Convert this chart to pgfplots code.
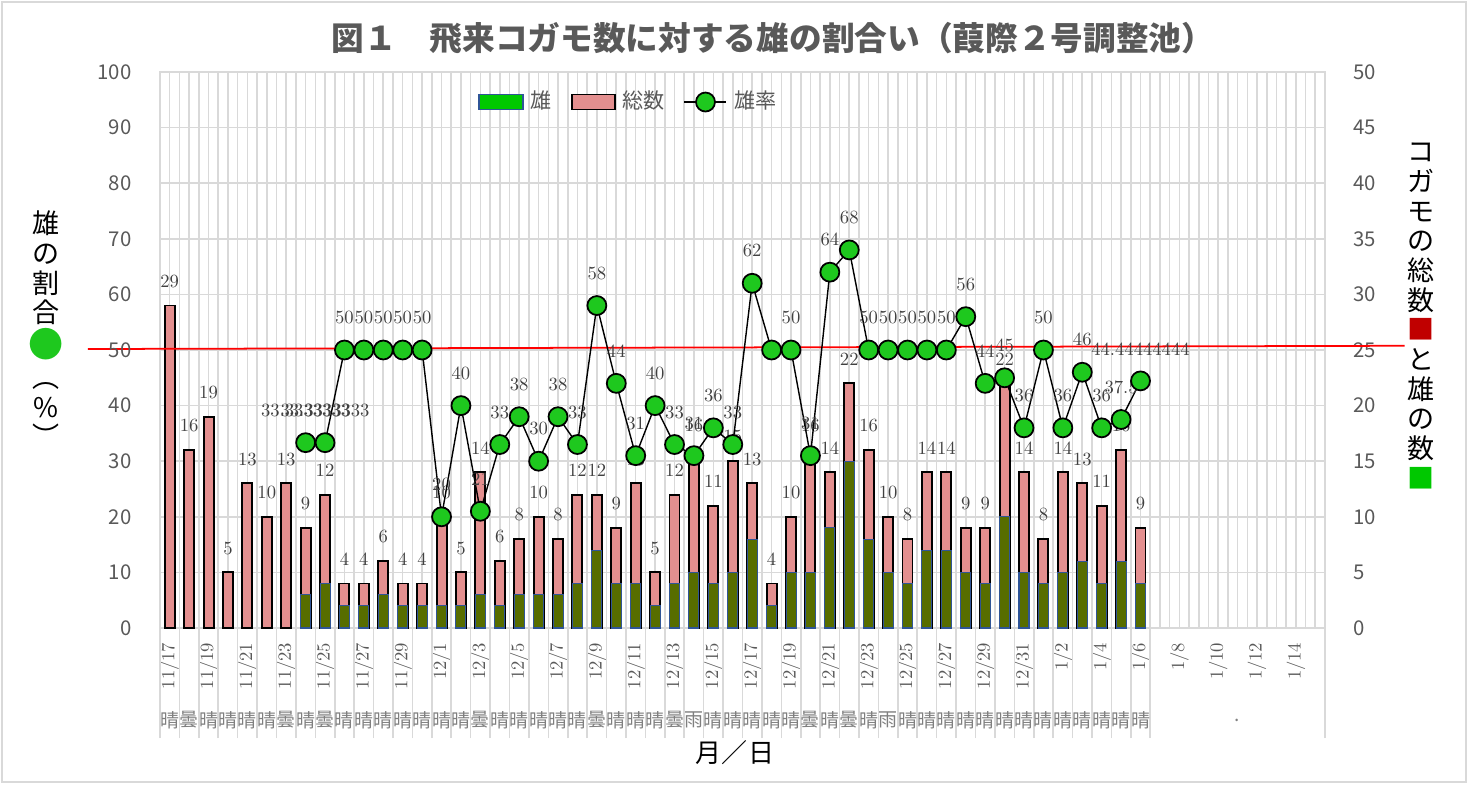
\documentclass[border=0pt]{standalone}
\usepackage{pgfplots}
\pgfplotsset{compat=1.18}
\usepackage{pgfplotstable}
\usepackage{fontspec}
\newfontfamily\jp{Noto Sans CJK JP}
\newfontfamily\lmr{lmroman10-regular}[Extension=.otf]
\definecolor{pinkbar}{HTML}{E38F8F}
\definecolor{malebar}{HTML}{576D00}
\definecolor{markc}{HTML}{1EC81E}
\definecolor{legg}{HTML}{00C800}
\definecolor{edgeb}{HTML}{2F5597}
\definecolor{txt}{HTML}{595959}
\definecolor{labc}{HTML}{404040}
\definecolor{wthr}{HTML}{7F7F7F}
\definecolor{gridc}{HTML}{D9D9D9}
\definecolor{redsq}{HTML}{C00000}
\pgfplotsset{
  ratelegend/.style={legend image code/.code={\draw[mark repeat=2,mark phase=2,#1] plot coordinates {(0cm,0cm) (0.21cm,0cm) (0.42cm,0cm)};}},
  greenlegend/.style={legend image code/.code={\draw[fill=legg, draw=edgeb, line width=0.5pt] (0cm,-0.075cm) rectangle (0.44cm,0.075cm);}},
  pinklegend/.style={legend image code/.code={\draw[fill=pinkbar, draw=black, line width=0.5pt] (0cm,-0.075cm) rectangle (0.43cm,0.075cm);}},
}

\pgfplotstableread{
x total
0 29
1 16
2 19
3 5
4 13
5 10
6 13
7 9
8 12
9 4
10 4
11 6
12 4
13 4
14 10
15 5
16 14
17 6
18 8
19 10
20 8
21 12
22 12
23 9
24 13
25 5
26 12
27 16
28 11
29 15
30 13
31 4
32 10
33 16
34 14
35 22
36 16
37 10
38 8
39 14
40 14
41 9
42 9
43 22
44 14
45 8
46 14
47 13
48 11
49 16
50 9
}\totals

\pgfplotstableread{
x male
7 3
8 4
9 2
10 2
11 3
12 2
13 2
14 2
15 2
16 3
17 2
18 3
19 3
20 3
21 4
22 7
23 4
24 4
25 2
26 4
27 5
28 4
29 5
30 8
31 2
32 5
33 5
34 9
35 15
36 8
37 5
38 4
39 7
40 7
41 5
42 4
43 10
44 5
45 4
46 5
47 6
48 4
49 6
50 4
}\males

\begin{document}
\begin{tikzpicture}
\path[use as bounding box] (0,0) rectangle (14.68,7.84);
\draw[gridc, line width=0.4pt] (0.02,0.02) rectangle (14.66,7.82);

% ---------- bars (right axis) ----------
\begin{axis}[
  at={(1.6cm,1.56cm)}, anchor=south west,
  scale only axis, width=11.65cm, height=5.56cm,
  xmin=-0.5, xmax=59.5, ymin=0, ymax=50,
  clip=false,
  ytick={0,5,...,50}, ytick pos=right, yticklabel pos=right,
  /pgf/number format/assume math mode=true,
  yticklabel style={font=\jp\fontsize{5.8}{7}\selectfont, text=txt, xshift=0.16cm},
  ymajorgrids, grid style={gridc, line width=0.45pt},
  xtick={0,2,...,58},
  xticklabels={11/17,11/19,11/21,11/23,11/25,11/27,11/29,12/1,12/3,12/5,12/7,12/9,12/11,12/13,12/15,12/17,12/19,12/21,12/23,12/25,12/27,12/29,12/31,1/2,1/4,1/6,1/8,1/10,1/12,1/14},
  xtick pos=bottom,
  xticklabel style={yshift=-0.14cm, rotate=90, anchor=east, inner sep=0pt, font=\lmr\fontsize{5.3}{6}\selectfont, text=txt},
  major tick length=0pt, minor tick length=0pt,
  minor xtick={-0.5,0,...,59.5}, xminorgrids, minor grid style={gridc, line width=0.45pt},
  extra x ticks={-0.5,0.5,1.5,2.5,3.5,4.5,5.5,6.5,7.5,8.5,9.5,10.5,11.5,12.5,13.5,14.5,15.5,16.5,17.5,18.5,19.5,20.5,21.5,22.5,23.5,24.5,25.5,26.5,27.5,28.5,29.5,30.5,31.5,32.5,33.5,34.5,35.5,36.5,37.5,38.5,39.5,40.5,41.5,42.5,43.5,44.5,45.5,46.5,47.5,48.5,49.5,50.5,59.5},
  extra x tick labels={},
  extra x tick style={major tick length=1.1cm, tick align=outside, tick style={draw=gridc, line width=0.45pt}},
  tick style={draw=gridc, line width=0.45pt},
  axis line style={draw=gridc, line width=0.45pt},
  ybar, bar width=0.1cm, bar shift=0pt,
]
\addplot[fill=pinkbar, draw=black, line width=0.55pt,
  nodes near coords,
  every node near coord/.append style={anchor=south, inner sep=0pt, yshift=0.17cm, font=\lmr\fontsize{5.3}{6}\selectfont, text=labc}]
  table[x=x, y=total] {\totals};
\addplot[fill=malebar, draw=edgeb, line width=0.3pt] table[x=x, y=male] {\males};
\draw[red, line width=0.5pt] (axis cs:-4.21,25.09) -- (axis cs:63.6,25.38);
\end{axis}

% ---------- rate (left axis) ----------
\begin{axis}[
  at={(1.6cm,1.56cm)}, anchor=south west,
  scale only axis, width=11.65cm, height=5.56cm,
  xmin=-0.5, xmax=59.5, ymin=0, ymax=100,
  clip=false,
  ytick={0,10,...,100}, ytick pos=left, yticklabel pos=left,
  /pgf/number format/assume math mode=true,
  yticklabel style={font=\jp\fontsize{5.8}{7}\selectfont, text=txt, xshift=-0.16cm},
  xtick={0,1,2,3,4,5,6,7,8,9,10,11,12,13,14,15,16,17,18,19,20,21,22,23,24,25,26,27,28,29,30,31,32,33,34,35,36,37,38,39,40,41,42,43,44,45,46,47,48,49,50,55},
  xticklabels={晴,曇,晴,晴,晴,晴,曇,晴,曇,晴,晴,晴,晴,晴,晴,晴,曇,晴,晴,晴,晴,晴,曇,晴,晴,晴,曇,雨,晴,晴,晴,晴,晴,曇,晴,曇,晴,雨,晴,晴,晴,晴,晴,晴,晴,晴,晴,晴,晴,晴,晴,.},
  xtick pos=bottom,
  xticklabel style={yshift=-0.92cm, anchor=center, inner sep=0pt, font=\jp\fontsize{5.4}{6}\selectfont, text=wthr},
  major tick length=0pt,
  tick style={draw=none},
  axis line style={draw=none},
  legend style={at={(0.404,0.946)}, anchor=center, draw=none, fill=none,
    font=\jp\fontsize{6}{7}\selectfont, text=txt,
    /tikz/every even column/.append style={column sep=0.12cm}},
  legend columns=3,
]
\addlegendimage{greenlegend}
\addlegendentry{雄}
\addlegendimage{pinklegend}
\addlegendentry{総数}
\addplot[black, line width=0.4pt, mark=*, mark size=2.7pt,
  mark options={fill=markc, draw=black, line width=0.5pt},
  ratelegend,
  nodes near coords, point meta=explicit symbolic,
  every node near coord/.append style={anchor=south, inner sep=0pt, yshift=0.25cm, font=\lmr\fontsize{5.3}{6}\selectfont, text=labc}]
coordinates {
(7,33.3333333) [33.3333333]
(8,33.3333333) [33.3333333]
(9,50) [50]
(10,50) [50]
(11,50) [50]
(12,50) [50]
(13,50) [50]
(14,20) [20]
(15,40) [40]
(16,21) [21]
(17,33) [33]
(18,38) [38]
(19,30) [30]
(20,38) [38]
(21,33) [33]
(22,58) [58]
(23,44) [44]
(24,31) [31]
(25,40) [40]
(26,33) [33]
(27,31) [31]
(28,36) [36]
(29,33) [33]
(30,62) [62]
(31,50) [\relax]
(32,50) [50]
(33,31) [31]
(34,64) [64]
(35,68) [68]
(36,50) [50]
(37,50) [50]
(38,50) [50]
(39,50) [50]
(40,50) [50]
(41,56) [56]
(42,44) [44]
(43,45) [45]
(44,36) [36]
(45,50) [50]
(46,36) [36]
(47,46) [46]
(48,36) [36]
(49,37.5) [37.5]
(50,44.44444444) [44.44444444]
};
\addlegendentry{雄率}
\end{axis}

% ---------- texts ----------
\node[font=\jp\bfseries\fontsize{9.3}{10}\selectfont, text=txt] at (7.73,7.46) {図１　飛来コガモ数に対する雄の割合い（葭際２号調整池）};
\node[font=\jp\fontsize{7.4}{8}\selectfont, text=black] at (7.35,0.31) {月／日};
\node[font=\jp\fontsize{7.7}{8.45}\selectfont, align=center, text=black] at (0.46,4.55)
  {雄\\の\\割\\合\\{\color{markc}\fontsize{10}{8.45}\selectfont ●}\\︵\\\%\\︶};
\node[font=\jp\fontsize{7.7}{8.45}\selectfont, align=center, text=black] at (14.21,4.68)
  {コ\\ガ\\モ\\の\\総\\数\\{\color{redsq}■}\\と\\雄\\の\\数\\{\color{legg}■}};
\end{tikzpicture}
\end{document}
